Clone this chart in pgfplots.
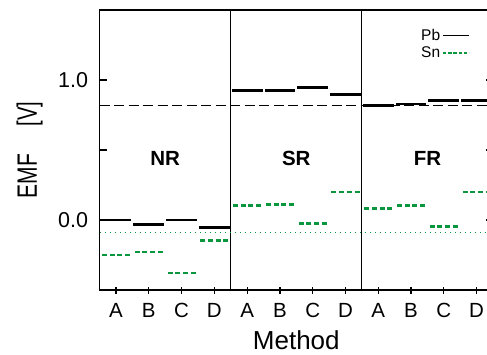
\documentclass[border=0pt]{standalone}
\usepackage{pgfplots}
\usepackage{pgfplotstable}
\usepackage{graphicx}
\pgfplotsset{compat=1.18}
\usepackage{fontspec}
\setmainfont{Liberation Sans}
\definecolor{sngreen}{RGB}{10,150,60}

\pgfplotstableread{
x pb sn
0 0.000 -0.250
1 -0.031 -0.229
2 0.000 -0.379
3 -0.052 -0.148
4 0.924 0.102
5 0.924 0.112
6 0.948 -0.026
7 0.898 0.200
8 0.819 0.083
9 0.829 0.102
10 0.852 -0.048
11 0.852 0.200
}\emfdata

\begin{document}
\begin{tikzpicture}
\begin{axis}[
  scale only axis,
  width=393.4pt, height=280pt,
  xmin=-0.5, xmax=11.5, ymin=-0.5, ymax=1.5,
  axis line style={line width=1.4pt},
  xtick={0,...,11},
  xticklabels={A,B,C,D,A,B,C,D,A,B,C,D},
  xtick pos=bottom,
  xtick align=center,
  ytick={0,0.5,1},
  yticklabels={0.0,,1.0},
  ytick align=inside,
  major tick length=7pt,
  tick style={line width=1.2pt, black},
  xticklabel style={font=\fontsize{20.5}{24}\selectfont, yshift=-6pt},
  yticklabel style={font=\fontsize{21.5}{25}\selectfont, xshift=-8pt},
  xlabel={Method},
  ylabel={\scalebox{0.75}[1]{EMF}\hspace{28pt}\scalebox{0.72}[1]{[V]}},
  xlabel style={font=\fontsize{26}{30}\selectfont, at={(axis description cs:0.5,-0.1786)}, anchor=center},
  ylabel style={font=\fontsize{28}{32}\selectfont, at={(axis description cs:-0.178,0.5)}, anchor=center},
  extra x ticks={3.5,7.5},
  extra x tick labels={},
  extra x tick style={grid=major, major grid style={black, line width=0.9pt}, major tick length=0pt},
  legend plot pos=right,
  legend style={draw=none, fill=none, at={(rel axis cs:0.812,0.94)}, anchor=north west,
    font=\fontsize{15.5}{18}\selectfont, row sep=1pt, inner sep=0pt},
  legend cell align=left,
  clip=false,
]
\addplot[black, line width=1.4pt, dash pattern=on 10pt off 4.5pt, forget plot] coordinates {(-0.5,0.82) (11.5,0.82)};
\addplot[sngreen, line width=1.6pt, dash pattern=on 1.6pt off 3.4pt, forget plot] coordinates {(-0.5,-0.088) (11.5,-0.088)};

\addplot[draw=none, mark=none,
  legend image code/.code={\draw[black, line width=1.6pt] (4pt,0pt) -- (30pt,0pt);},
  error bars/.cd, x dir=both, x fixed=0.47, error mark=none,
  error bar style={draw=black, line width=2.8pt}]
  table[x=x, y=pb] {\emfdata};
\addlegendentry{Pb}

\addplot[draw=none, mark=none,
  legend image code/.code={\draw[sngreen, line width=1.6pt, dash pattern=on 3.5pt off 1.7pt] (4pt,0pt) -- (30pt,0pt);},
  error bars/.cd, x dir=both, x fixed=0.45, error mark=none,
  error bar style={draw=sngreen, line width=2.6pt, dash pattern=on 5pt off 2.7pt, dash phase=6.35pt}]
  table[x=x, y=sn] {\emfdata};
\addlegendentry{Sn}

\node[font=\bfseries\fontsize{20.5}{24}\selectfont] at (axis cs:1.5,0.443) {NR};
\node[font=\bfseries\fontsize{20.5}{24}\selectfont] at (axis cs:5.5,0.443) {SR};
\node[font=\bfseries\fontsize{20.5}{24}\selectfont] at (axis cs:9.5,0.443) {FR};

\coordinate (ll) at (rel axis cs:0,0);
\coordinate (ul) at (rel axis cs:0,1);
\end{axis}
\pgfresetboundingbox
\path ([shift={(-99.6pt,-64pt)}]ll) rectangle ([shift={(387.4pt,10pt)}]ul);
\end{tikzpicture}
\end{document}
